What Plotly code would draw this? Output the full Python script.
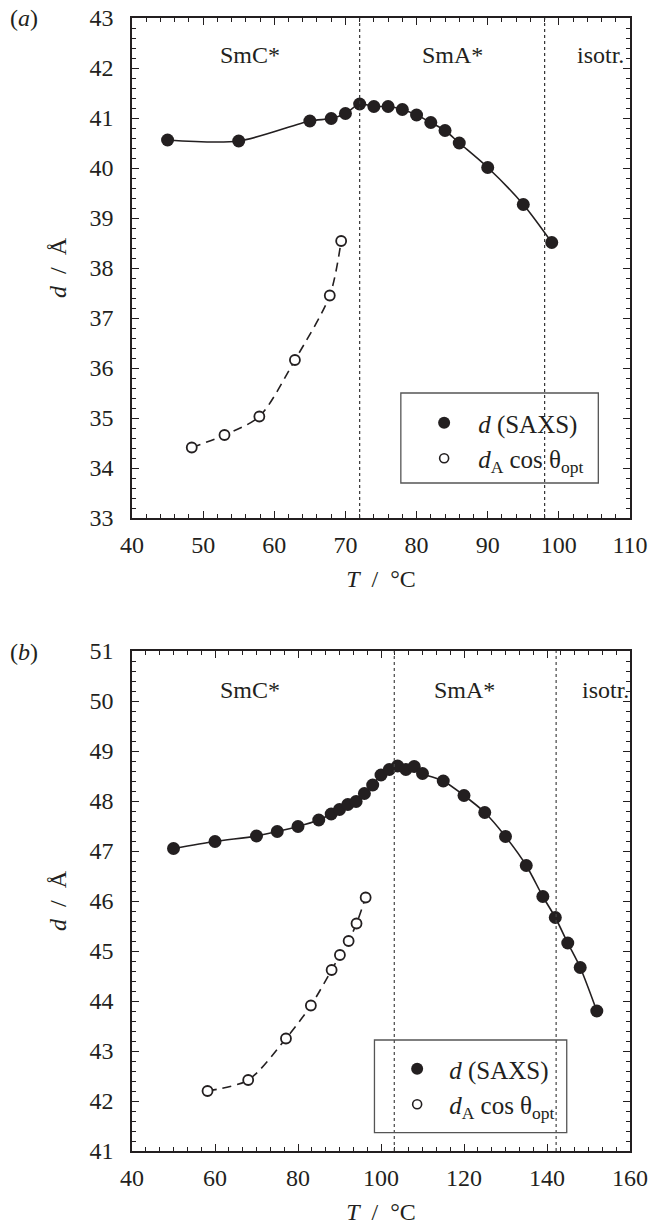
import plotly.graph_objects as go
from plotly.subplots import make_subplots

# ---------------- data: panel (a) ----------------
a_T_saxs = [45, 55, 65, 68, 70, 72, 74, 76, 78, 80, 82, 84, 86, 90, 95, 99]
a_d_saxs = [40.56, 40.54, 40.94, 40.99, 41.09, 41.28, 41.23, 41.23, 41.17, 41.06,
            40.91, 40.75, 40.50, 40.01, 39.27, 38.51]
a_T_opt = [48.4, 53.0, 57.9, 62.9, 67.8, 69.4]
a_d_opt = [34.41, 34.66, 35.03, 36.16, 37.45, 38.54]
a_transitions = [72.0, 98.0]

# ---------------- data: panel (b) ----------------
b_T_saxs = [50, 60, 70, 75, 80, 85, 88, 90, 92, 94, 96, 98, 100, 102, 104, 106, 108, 110,
            115, 120, 125, 130, 135, 139, 142, 145, 148, 152]
b_d_saxs = [47.05, 47.19, 47.30, 47.39, 47.49, 47.62, 47.74, 47.83, 47.93, 47.99, 48.15,
            48.32, 48.52, 48.63, 48.70, 48.63, 48.69, 48.55, 48.40, 48.11, 47.77, 47.29,
            46.71, 46.09, 45.67, 45.16, 44.67, 43.80]
b_T_opt = [58.2, 68.0, 77.1, 83.1, 88.1, 90.1, 92.2, 94.1, 96.3]
b_d_opt = [42.20, 42.42, 43.25, 43.91, 44.62, 44.92, 45.20, 45.55, 46.07]
b_transitions = [103.2, 142.2]

phase_labels = ["SmC*", "SmA*", "isotr."]
a_label_T = [56.6, 85.1, 105.9]
a_label_d = 42.26
b_label_T = [68.4, 120.1, 154.0]
b_label_d = 50.22

legend_names = ["<i>d</i> (SAXS)", "<i>d</i><sub>A</sub> cos θ<sub>opt</sub>"]

INK = "#231f20"
FONT = "Liberation Serif, Times New Roman, serif"
FS = 24

fig = make_subplots(rows=2, cols=1, vertical_spacing=0.1174)

def add_panel(row, T_s, d_s, T_o, d_o, legend_id):
    fig.add_trace(go.Scatter(x=T_s, y=d_s, mode="lines+markers",
                             line=dict(color=INK, width=1.6, shape="spline", smoothing=0.8),
                             marker=dict(color=INK, size=13, symbol="circle"),
                             showlegend=False), row=row, col=1)
    fig.add_trace(go.Scatter(x=T_o, y=d_o, mode="lines+markers",
                             line=dict(color=INK, width=1.6, dash="9px,6px", shape="spline", smoothing=0.8),
                             marker=dict(color="white", size=10, symbol="circle",
                                         line=dict(color=INK, width=1.8)),
                             showlegend=False), row=row, col=1)
    # legend entries (marker only)
    fig.add_trace(go.Scatter(x=[None], y=[None], mode="markers", name=legend_names[0],
                             marker=dict(color=INK, size=12),
                             legend=legend_id, showlegend=True), row=row, col=1)
    fig.add_trace(go.Scatter(x=[None], y=[None], mode="markers", name=legend_names[1],
                             marker=dict(color="white", size=9, line=dict(color=INK, width=1.6)),
                             legend=legend_id, showlegend=True), row=row, col=1)

add_panel(1, a_T_saxs, a_d_saxs, a_T_opt, a_d_opt, "legend")
add_panel(2, b_T_saxs, b_d_saxs, b_T_opt, b_d_opt, "legend2")

# transition lines
for t in a_transitions:
    fig.add_shape(type="line", xref="x", yref="y domain", x0=t, x1=t, y0=0, y1=1,
                  line=dict(color="#333", width=1.2, dash="dot"))
for t in b_transitions:
    fig.add_shape(type="line", xref="x2", yref="y2 domain", x0=t, x1=t, y0=0, y1=1,
                  line=dict(color="#444", width=1.2, dash="dot"))

# phase labels
for lab, t in zip(phase_labels, a_label_T):
    fig.add_annotation(x=t, y=a_label_d, xref="x", yref="y", text=lab, showarrow=False,
                       font=dict(family=FONT, size=FS, color=INK))
for lab, t in zip(phase_labels, b_label_T):
    fig.add_annotation(x=t, y=b_label_d, xref="x2", yref="y2", text=lab, showarrow=False,
                       font=dict(family=FONT, size=FS, color=INK))

# panel letters
fig.add_annotation(x=-0.25, y=1.0, xref="paper", yref="paper", text="(<i>a</i>)",
                   showarrow=False, xanchor="left", yanchor="middle",
                   font=dict(family=FONT, size=FS, color=INK))
fig.add_annotation(x=-0.25, y=0.4404, xref="paper", yref="paper", text="(<i>b</i>)",
                   showarrow=False, xanchor="left", yanchor="middle",
                   font=dict(family=FONT, size=FS, color=INK))

# legend boxes
fig.add_shape(type="rect", xref="x domain", yref="y domain",
              x0=(400.7 - 131.7) / 498.3, x1=(598.3 - 131.7) / 498.3,
              y0=(518.3 - 483.3) / 500, y1=(518.3 - 393.3) / 500,
              line=dict(color="#555", width=1.3), fillcolor="rgba(0,0,0,0)")
fig.add_shape(type="rect", xref="x2 domain", yref="y2 domain",
              x0=(374.3 - 131.7) / 498.3, x1=(566.7 - 131.7) / 498.3,
              y0=(1151 - 1132.7) / 500, y1=(1151 - 1040) / 500,
              line=dict(color="#555", width=1.3), fillcolor="rgba(0,0,0,0)")

tickfont = dict(family=FONT, size=FS, color=INK)
axis_common = dict(showline=True, linecolor=INK, linewidth=1.6, mirror="allticks",
                   ticks="inside", ticklen=7, tickwidth=1.3, tickcolor=INK,
                   showgrid=False, zeroline=False, tickfont=tickfont, automargin=False,
                   ticklabeloverflow="allow")

fig.update_xaxes(**axis_common)
fig.update_yaxes(**axis_common)

xtitle = dict(text="<i>T</i>  /  °C", font=dict(family=FONT, size=FS, color=INK), standoff=14)
ytitle = dict(text="<i>d</i>  /  Å", font=dict(family=FONT, size=FS, color=INK), standoff=16)

fig.update_xaxes(range=[40, 110], dtick=10, tick0=40, title=xtitle, ticklabelstandoff=4,
                 minor=dict(dtick=2, ticklen=4, tickcolor=INK, ticks="inside", showgrid=False),
                 row=1, col=1)
fig.update_yaxes(range=[33, 43], dtick=1, tick0=33, title=ytitle, ticklabelstandoff=12,
                 minor=dict(dtick=0.2, ticklen=4, tickcolor=INK, ticks="inside", showgrid=False),
                 row=1, col=1)
fig.update_xaxes(range=[40, 160], dtick=20, tick0=40, title=xtitle, ticklabelstandoff=4,
                 minor=dict(dtick=20 / 6, ticklen=4, tickcolor=INK, ticks="inside", showgrid=False),
                 row=2, col=1)
fig.update_yaxes(range=[41, 51], dtick=1, tick0=41, title=ytitle, ticklabelstandoff=12,
                 minor=dict(dtick=0.2, ticklen=4, tickcolor=INK, ticks="inside", showgrid=False),
                 row=2, col=1)

legfont = dict(family=FONT, size=25, color=INK)
fig.update_layout(
    width=652, height=1230,
    margin=dict(l=132, r=22, t=18, b=79, autoexpand=False),
    paper_bgcolor="white", plot_bgcolor="white",
    font=dict(family=FONT, color=INK),
    legend=dict(x=(410 - 131.7) / 498.3, y=1 - (400 - 18) / 1133, xanchor="left", yanchor="top",
                xref="paper", yref="paper", bgcolor="rgba(0,0,0,0)", borderwidth=0,
                font=legfont, tracegroupgap=0, itemsizing="trace", itemwidth=58),
    legend2=dict(x=(385 - 131.7) / 498.3, y=1 - (1046 - 18) / 1133, xanchor="left", yanchor="top",
                 xref="paper", yref="paper", bgcolor="rgba(0,0,0,0)", borderwidth=0,
                 font=legfont, tracegroupgap=0, itemsizing="trace", itemwidth=54),
)

# subplot domains to match pixel layout
fig.update_yaxes(domain=[633 / 1133, 1.0], row=1, col=1)
fig.update_yaxes(domain=[0.0, 500 / 1133], row=2, col=1)

fig.write_html("out.html", config={"displayModeBar": False},
               post_script="document.body.style.margin='0';document.body.style.padding='0';")
